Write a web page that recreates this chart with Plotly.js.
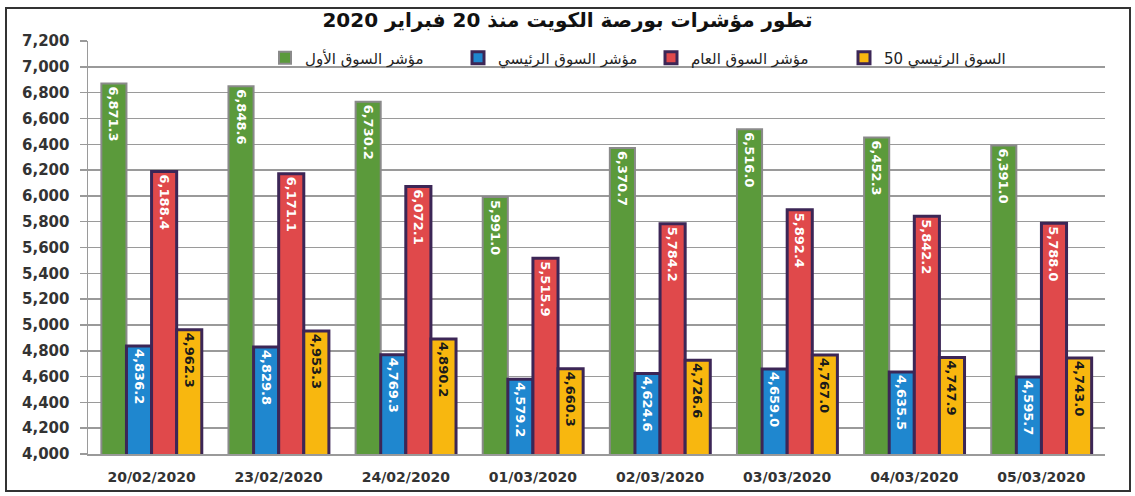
<!DOCTYPE html>
<html>
<head>
<meta charset="utf-8">
<script src="https://cdn.plot.ly/plotly-3.0.1.min.js"></script>
<style>
html,body{margin:0;padding:0;background:#fff;}
#chart{width:1135px;height:496px;}
</style>
</head>
<body>
<div id="chart"></div>
<script>
const dates = ["20/02/2020","23/02/2020","24/02/2020","01/03/2020","02/03/2020","03/03/2020","04/03/2020","05/03/2020"];
const seriesNames = ["مؤشر السوق الأول","مؤشر السوق الرئيسي","مؤشر السوق العام","السوق الرئيسي 50"];
const premierMarket = [6871.3, 6848.6, 6730.2, 5991.0, 6370.7, 6516.0, 6452.3, 6391.0];
const mainMarket = [4836.2, 4829.8, 4769.3, 4579.2, 4624.6, 4659.0, 4635.5, 4595.7];
const allShares = [6188.4, 6171.1, 6072.1, 5515.9, 5784.2, 5892.4, 5842.2, 5788.0];
const main50 = [4962.3, 4953.3, 4890.2, 4660.3, 4726.6, 4767.0, 4747.9, 4743.0];
const yTicks = [4000,4200,4400,4600,4800,5000,5200,5400,5600,5800,6000,6200,6400,6600,6800,7000,7200];

const fills = ["#5b9a3b","#1f87cf","#e0494b","#f8b70f"];
const lines = ["#8a8a8a","#3c2656","#3c2656","#3c2656"];
const lineW = [2,3,3,3];
const txtCol = ["#ffffff","#ffffff","#ffffff","#1a1a1a"];
const data = [premierMarket, mainMarket, allShares, main50];

const traces = data.map((vals,i)=>({
  type:'bar',
  name: seriesNames[i],
  x: dates,
  y: vals,
  marker:{color:fills[i], line:{color:lines[i], width:lineW[i]}},
  texttemplate:'%{y:,.1f}',
  textposition:'inside',
  insidetextanchor:'end',
  textangle:90,
  textfont:{family:'DejaVu Sans', size:13, weight:'bold', color:txtCol[i]},
  cliponaxis:true,
  hoverinfo:'skip'
}));

const L=88, R=30, T=41, B=42, W=1135, H=496;
const pw = W-L-R, ph = H-T-B;
const px = v => (v-L)/pw;
const py = v => (H-B-v)/ph;

const layout = {
  width:W, height:H,
  margin:{l:L, r:R, t:T, b:B, pad:0},
  paper_bgcolor:'#ffffff', plot_bgcolor:'#ffffff',
  barmode:'group', bargap:0.21, bargroupgap:0,
  showlegend:true,
  title:{text:'تطور مؤشرات بورصة الكويت منذ 20 فبراير 2020', x:0.5, xanchor:'center', y:1-20/H, yanchor:'middle', yref:'container',
    font:{family:'DejaVu Sans', size:20, weight:'bold', color:'#111'}},
  legend:{orientation:'h', x:px(265), xanchor:'left', y:py(58), yanchor:'middle',
    bgcolor:'rgba(0,0,0,0)', entrywidth:148, entrywidthmode:'pixels', traceorder:'normal',
    font:{family:'DejaVu Sans', size:15, color:'#222'}},
  xaxis:{type:'category', range:[-0.5,7.5], showgrid:false,
    ticks:'', ticklabelstandoff:10,
    showline:true, linecolor:'#9a9a9a', linewidth:1.5, zeroline:false,
    tickfont:{family:'DejaVu Sans', size:14, weight:'bold', color:'#333'}, fixedrange:true},
  yaxis:{range:[4000,7200], tickvals:yTicks, tickformat:',d', showgrid:true, gridcolor:'#9a9a9a', gridwidth:1.5,
    ticks:'outside', ticklen:7, tickcolor:'#9a9a9a', tickwidth:1.5, ticklabelstandoff:7,
    showline:true, linecolor:'#9a9a9a', linewidth:1.5, zeroline:false,
    tickfont:{family:'DejaVu Sans', size:15, weight:'bold', color:'#333'}, fixedrange:true},
  shapes:[{type:'rect', xref:'paper', yref:'paper', x0:px(6), x1:px(1130), y0:py(491), y1:py(8),
    line:{color:'#333', width:2}, fillcolor:'rgba(0,0,0,0)', layer:'above'}]
};

Plotly.newPlot('chart', traces, layout, {displayModeBar:false, staticPlot:true});
</script>
</body>
</html>
